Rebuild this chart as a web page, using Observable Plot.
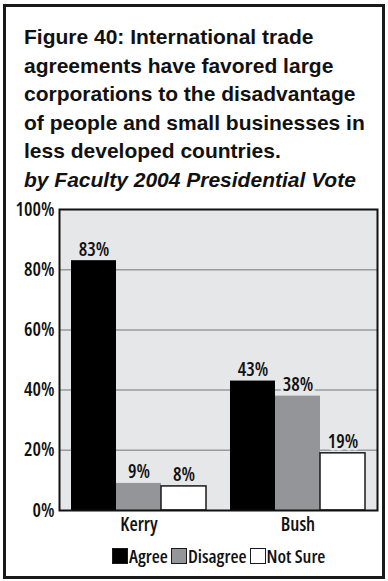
<!DOCTYPE html>
<html>
<head>
<meta charset="utf-8">
<script src="https://cdn.jsdelivr.net/npm/d3@7"></script>
<script src="https://cdn.jsdelivr.net/npm/@observablehq/plot@0.6"></script>
<style>
  html, body { margin: 0; padding: 0; background: #fff; width: 388px; height: 581px; overflow: hidden; }
  #box { position: absolute; left: 3px; top: 4px; width: 376px; height: 569px; border: 3px solid #1a1a1a; }
  #title { position: absolute; left: 24px; top: 23px; font-family: "Liberation Sans", Arial, sans-serif; font-weight: bold; font-size: 21px; line-height: 28.6px; color: #111; white-space: nowrap; }
  #title .sub { font-style: italic; }
  #chart { position: absolute; left: 6px; top: 195px; }
  #chart svg, #chart svg text { font-family: "Open Sans", sans-serif; font-stretch: 75%; font-weight: 600; }
  #legend { position: absolute; left: 112px; top: 546px; display: flex; align-items: center; font-family: "Open Sans", sans-serif; font-stretch: 75%; font-weight: 600; font-size: 18.5px; line-height: 19px; color: #111; }
  #legend .item { display: flex; align-items: center; margin-right: 3px; }
  #legend .sw { width: 14px; height: 14px; border: 1px solid #1a1a1a; margin-right: 1px; box-sizing: content-box; }
</style>
</head>
<body>
<div id="box"></div>
<div id="title">Figure 40: International trade<br>agreements have favored large<br>corporations to the disadvantage<br>of people and small businesses in<br>less developed countries.<br><span class="sub">by Faculty 2004 Presidential Vote</span></div>
<div id="chart"></div>
<div id="legend"></div>
<script>
// Data
const candidates = ["Kerry", "Bush"];
const responses = ["Agree", "Disagree", "Not Sure"];
const kerryValues = [83, 9, 8];
const bushValues = [43, 38, 19];
const yTicks = [0, 20, 40, 60, 80, 100];
const responseColors = ["#000000", "#939598", "#ffffff"];

const rows = [];
responses.forEach((r, i) => {
  rows.push({candidate: "Kerry", response: r, value: kerryValues[i]});
  rows.push({candidate: "Bush", response: r, value: bushValues[i]});
});

const bg = "#e6e7e9";
const chart = Plot.plot({
  width: 376,
  height: 345,
  marginLeft: 52,
  marginRight: 5,
  marginTop: 14,
  marginBottom: 30,
  style: {fontFamily: "'Open Sans', sans-serif", fontSize: "19px", color: "#111", background: "transparent", overflow: "visible"},
  fx: {domain: candidates, padding: 0, label: null, tickSize: 0, tickPadding: 7, axis: "bottom"},
  x: {domain: responses, paddingInner: 0, paddingOuter: 0.24, axis: null},
  y: {domain: [0, 100], ticks: yTicks, tickFormat: d => d + "%", tickSize: 0, tickPadding: 5, label: null},
  color: {domain: responses, range: responseColors},
  marks: [
    Plot.frame({fill: bg, stroke: null, facet: "super"}),
    Plot.ruleY(yTicks.filter(d => d > 0 && d < 100), {stroke: "#9a9a9a", strokeWidth: 1.5}),
    Plot.barY(rows, {fx: "candidate", x: "response", y: "value", fill: "response", stroke: d => d.response === "Not Sure" ? "#1a1a1a" : "none", strokeWidth: 1.5}),
    Plot.text(rows, {fx: "candidate", x: "response", y: "value", text: d => d.value + "%", lineAnchor: "bottom", dy: -5, fill: "#111", stroke: bg, strokeWidth: 5}),
    Plot.frame({stroke: "#111", strokeWidth: 2, facet: "super"})
  ]
});
document.getElementById("chart").appendChild(chart);

const legend = document.getElementById("legend");
responses.forEach((r, i) => {
  const item = document.createElement("div");
  item.className = "item";
  const sw = document.createElement("span");
  sw.className = "sw";
  sw.style.background = responseColors[i];
  const label = document.createElement("span");
  label.textContent = r;
  item.appendChild(sw);
  item.appendChild(label);
  legend.appendChild(item);
});
</script>
</body>
</html>
